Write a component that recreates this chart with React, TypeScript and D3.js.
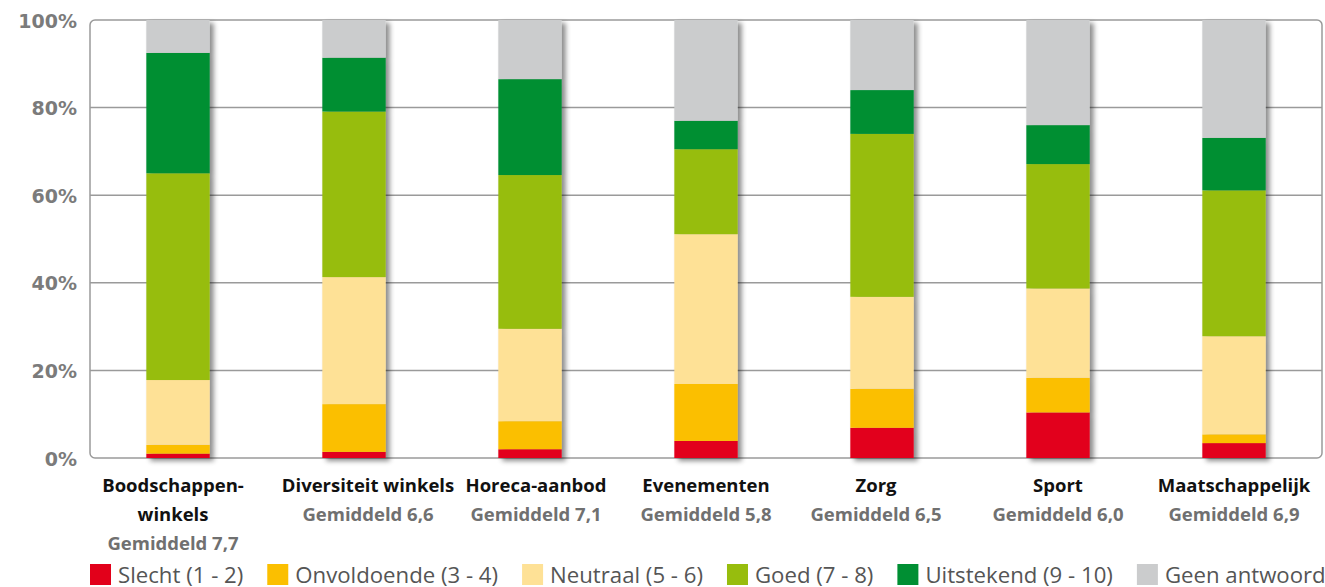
import React, { useEffect, useRef } from "react";
import * as d3 from "d3";

const categories = ["Boodschappen-\nwinkels", "Diversiteit winkels", "Horeca-aanbod", "Evenementen", "Zorg", "Sport", "Maatschappelijk"];
const averages = ["7,7", "6,6", "7,1", "5,8", "6,5", "6,0", "6,9"];
const seriesNames = ["Slecht (1 - 2)", "Onvoldoende (3 - 4)", "Neutraal (5 - 6)", "Goed (7 - 8)", "Uitstekend (9 - 10)", "Geen antwoord"];
const seriesColors = ["#e2001a", "#fbbf00", "#fee196", "#97bd0d", "#008f33", "#cbcccd"];
const slecht = [1.0, 1.4, 2.0, 3.9, 6.9, 10.4, 3.4];
const onvoldoende = [2.0, 10.9, 6.4, 13.0, 8.9, 7.9, 2.0];
const neutraal = [14.8, 29.0, 21.1, 34.2, 21.0, 20.4, 22.4];
const goed = [47.2, 37.8, 35.1, 19.4, 37.2, 28.4, 33.3];
const uitstekend = [27.5, 12.3, 21.9, 6.5, 10.0, 8.9, 12.0];
const geen = [7.5, 8.6, 13.5, 23.0, 16.0, 24.0, 26.9];
const yTicks = [0, 20, 40, 60, 80, 100];

// layout: horizontal nudge of each category label (px), as in the original to avoid overlaps
const labelNudge = [-5, 14, 6, 0, -6, 0, 0];

export default function App() {
  const ref = useRef<SVGSVGElement>(null);
  useEffect(() => {
    const svg = d3.select(ref.current);
    svg.selectAll("*").remove();
    const W = 1325, H = 587;
    const m = { left: 90, right: 3, top: 20, bottom: 129 };
    const x = d3.scaleBand<number>().domain(d3.range(categories.length)).range([m.left, W - m.right]).paddingInner(0.64).paddingOuter(0.32);
    const y = d3.scaleLinear().domain([0, 100]).range([H - m.bottom, m.top]);

    const defs = svg.append("defs");
    const f = defs.append("filter").attr("id", "shadow").attr("x", "-20%").attr("y", "-5%").attr("width", "150%").attr("height", "115%");
    f.append("feDropShadow").attr("dx", 4).attr("dy", 3).attr("stdDeviation", 2.5).attr("flood-color", "#000").attr("flood-opacity", 0.45);

    // gridlines
    svg.append("g").selectAll("line").data(yTicks.filter(t => t > 0 && t < 100)).join("line")
      .attr("x1", m.left).attr("x2", W - m.right).attr("y1", d => y(d)).attr("y2", d => y(d))
      .attr("stroke", "#9a9a9a").attr("stroke-width", 1.5);
    // frame
    svg.append("rect").attr("x", m.left).attr("y", y(100)).attr("width", W - m.right - m.left).attr("height", y(0) - y(100))
      .attr("rx", 5).attr("fill", "none").attr("stroke", "#9a9a9a").attr("stroke-width", 1.5);

    // y labels
    svg.append("g").selectAll("text").data(yTicks).join("text")
      .attr("x", 77).attr("y", d => y(d) + 7.5).attr("text-anchor", "end")
      .attr("font-family", "DejaVu Sans").attr("font-weight", "bold").attr("font-size", 19).attr("fill", "#7b7b7b")
      .text(d => d + "%");

    const rows = categories.map((c, i) => ({ i, s0: slecht[i], s1: onvoldoende[i], s2: neutraal[i], s3: goed[i], s4: uitstekend[i], s5: geen[i] }));
    const keys = ["s0", "s1", "s2", "s3", "s4", "s5"];
    const stacked = d3.stack<any>().keys(keys)(rows);

    const barG = svg.append("g");
    categories.forEach((_, i) => {
      const g = barG.append("g").attr("filter", "url(#shadow)");
      stacked.forEach((layer, k) => {
        const d = layer[i];
        g.append("rect").attr("x", x(i)!).attr("width", x.bandwidth())
          .attr("y", y(d[1])).attr("height", y(d[0]) - y(d[1])).attr("fill", seriesColors[k]);
      });
    });

    // category labels
    const lab = svg.append("g").attr("font-family", "'Open Sans'").attr("text-anchor", "middle");
    categories.forEach((c, i) => {
      const cx = x(i)! + x.bandwidth() / 2 + labelNudge[i];
      const lines = c.split("\n");
      lines.forEach((ln, j) => {
        lab.append("text").attr("x", cx).attr("y", 492 + j * 29).attr("font-size", 18.5).attr("font-weight", 700).attr("fill", "#111").text(ln);
      });
      lab.append("text").attr("x", cx).attr("y", 492 + lines.length * 29).attr("font-size", 18.5).attr("font-weight", 700).attr("fill", "#707070").text("Gemiddeld " + averages[i]);
    });

    // legend
    const leg = svg.append("g");
    let lx = 90;
    seriesNames.forEach((n, k) => {
      leg.append("rect").attr("x", lx).attr("y", 564).attr("width", 21).attr("height", 21).attr("fill", seriesColors[k]);
      const t = leg.append("text").attr("x", lx + 28).attr("y", 583).attr("font-family", "'Open Sans'").attr("font-size", 22.2)
        .attr("font-weight", 500).attr("fill", "#555").text(n);
      const w = (t.node() as SVGTextElement).getComputedTextLength();
      lx = lx + 28 + w + 24;
    });
  }, []);
  return (
    <svg ref={ref} width={1325} height={587} style={{ position: "absolute", left: 0, top: 0, background: "#fff" }} />
  );
}
